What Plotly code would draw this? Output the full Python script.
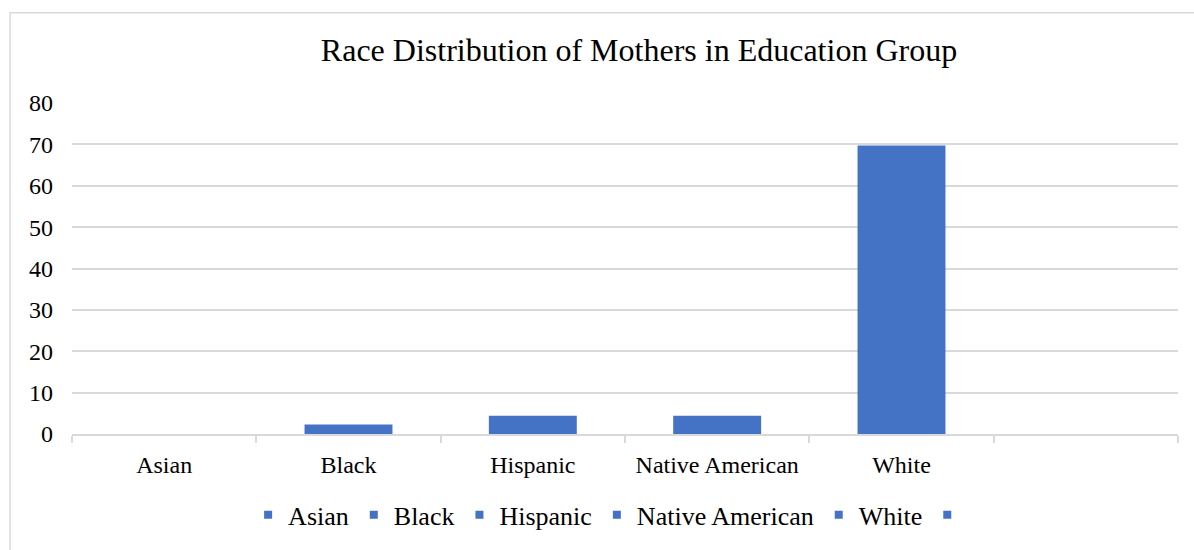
import plotly.graph_objects as go

categories = ["Asian", "Black", "Hispanic", "Native American", "White", " "]
legend_names = ["Asian", "Black", "Hispanic", "Native American", "White", ""]
values = [0, 2.3, 4.4, 4.4, 69.7, None]
y_ticks = [0, 10, 20, 30, 40, 50, 60, 70, 80]

BAR_COLOR = "#4472C4"
FONT = "Liberation Serif"

fig = go.Figure()
for cat, name, val in zip(categories, legend_names, values):
    fig.add_trace(go.Bar(
        x=[cat], y=[val], name=name, legendgroup=name or "blank",
        marker=dict(color=BAR_COLOR, line=dict(width=0)),
        width=0.477, showlegend=False,
    ))
# small square legend keys, Excel style
for cat, name in zip(categories, legend_names):
    fig.add_trace(go.Scatter(
        x=[None], y=[None], name=name, legendgroup=name or "blank",
        mode="markers", marker=dict(symbol="square", size=8, color=BAR_COLOR),
        showlegend=True, hoverinfo="skip",
    ))

# chart-area border (Excel style)
fig.add_shape(type="rect", xref="paper", yref="paper",
              x0=-0.056, x1=1.03, y0=-0.40, y1=1.2725,
              line=dict(color="#d9d9d9", width=1.5), fillcolor="rgba(0,0,0,0)",
              layer="below")

fig.update_layout(
    width=1194, height=550,
    paper_bgcolor="white", plot_bgcolor="white",
    barmode="overlay",
    margin=dict(l=72, r=16, t=103, b=113),
    font=dict(family=FONT, color="#000000"),
    title=dict(text="Race Distribution of Mothers in Education Group",
               font=dict(family=FONT, size=32, color="#000000"),
               x=639 / 1194, xanchor="center", xref="container",
               y=1 - 50 / 550, yanchor="middle", yref="container"),
    xaxis=dict(
        type="category", categoryorder="array", categoryarray=categories,
        tickson="boundaries", ticks="outside", ticklen=7, tickcolor="#d9d9d9",
        tickwidth=1.5,
        showline=True, linecolor="#d9d9d9", linewidth=1.5,
        showgrid=False, tickfont=dict(size=24, family=FONT, color="#000000"),
        ticklabelstandoff=8,
        range=[-0.5, 5.5],
    ),
    yaxis=dict(
        range=[0, 80], tickvals=y_ticks, ticktext=[str(v) for v in y_ticks],
        showgrid=True, gridcolor="#d9d9d9", gridwidth=1.5,
        zeroline=False, showline=False, ticks="",
        tickfont=dict(size=24, family=FONT, color="#000000"),
        ticklabelstandoff=18,
    ),
    legend=dict(orientation="h", x=0.487, xanchor="center",
                y=-0.244, yanchor="middle",
                font=dict(size=26, family=FONT, color="#000000"),
                itemwidth=30, tracegroupgap=0),
    showlegend=True,
)

fig.write_html("out.html")
